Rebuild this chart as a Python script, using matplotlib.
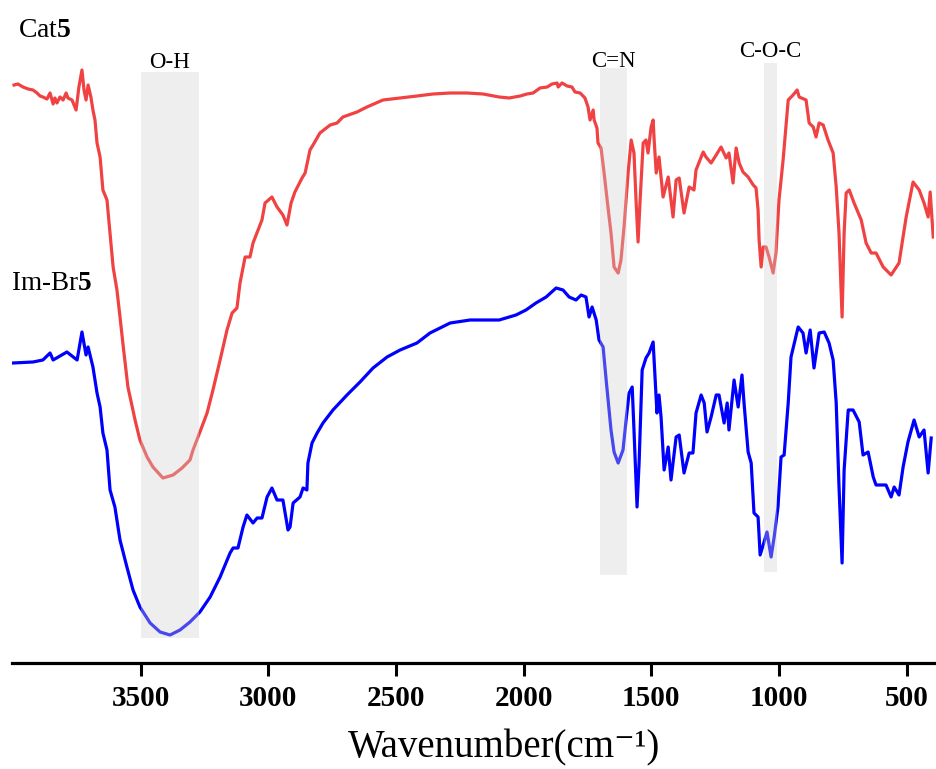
import matplotlib
matplotlib.use("Agg")
import matplotlib.pyplot as plt
import numpy as np

plt.rcParams['font.family'] = ['Liberation Serif', 'DejaVu Serif']
plt.rcParams['mathtext.fontset'] = 'custom'
plt.rcParams['mathtext.rm'] = 'Liberation Serif'
plt.rcParams['mathtext.bf'] = 'Liberation Serif:bold'
plt.rcParams['mathtext.it'] = 'Liberation Serif:italic'

# ---------------- data (wavenumber cm-1, transmittance a.u.) ----------------
cat5_wn = [3996, 3981, 3961, 3941, 3922, 3906, 3894, 3883, 3867, 3855, 3843, 3836, 3828, 3816, 3804,
           3792, 3785, 3769, 3761, 3753, 3742, 3730, 3722, 3714, 3706, 3695, 3687,
           3679, 3671, 3659, 3648, 3632, 3620, 3608, 3593, 3581, 3569, 3550, 3522, 3503, 3475, 3452,
           3413, 3373, 3338, 3307, 3295, 3268, 3240, 3217, 3189, 3162, 3142, 3123, 3111, 3091, 3072,
           3060, 3040, 3025, 3013, 2986, 2966, 2943, 2927, 2911, 2896, 2868, 2856, 2837, 2825, 2798,
           2758, 2731, 2708, 2653, 2614, 2551, 2484, 2418, 2355, 2288, 2222, 2159, 2096, 2057, 2014,
           1987, 1963, 1936, 1908, 1889, 1869, 1865, 1850, 1830, 1811, 1799, 1779, 1760, 1748, 1740,
           1728, 1724, 1713, 1709, 1697, 1685, 1670, 1658,
           1646, 1630, 1619, 1607, 1591, 1579, 1568, 1560, 1552, 1544, 1532, 1521, 1513, 1501, 1493,
           1489, 1481, 1470, 1454, 1434, 1415, 1403, 1391, 1372, 1352, 1333, 1325, 1297, 1286, 1266,
           1246, 1227, 1207, 1196, 1180, 1168, 1156, 1141, 1121, 1101, 1090, 1082, 1078, 1070, 1062,
           1051, 1039, 1023, 1012, 1000, 984, 964, 945, 929, 921, 894, 882, 866, 855, 843,
           827, 808, 788, 776, 765, 753, 745, 737, 725, 706, 678, 659, 639, 620, 592,
           561, 530, 502, 475, 451, 432, 416, 408, 396]
cat5_t = [578, 579, 576, 574, 573, 570, 567, 566, 564, 570, 559, 565, 560, 566, 563,
          570, 565, 563, 558, 553, 576, 593, 573, 563, 578, 566, 553,
          543, 520, 506, 473, 463, 430, 396, 373, 346, 318, 276, 243, 223, 206, 196,
          185, 188, 195, 203, 213, 231, 250, 273, 303, 333, 350, 355, 380, 406, 406,
          420, 433, 443, 460, 466, 456, 448, 438, 460, 471, 485, 490, 513, 518, 530,
          538, 540, 546, 551, 556, 563, 565, 567, 569, 570, 570, 569, 566, 565, 567,
          569, 570, 575, 576, 579, 580, 576, 580, 577, 576, 571, 570, 565, 556, 543,
          553, 543, 535, 520, 515, 490, 456, 430,
          396, 390, 403, 436, 490, 523, 510, 463, 421, 463, 520, 523, 510, 536, 543,
          523, 490, 506, 466, 486, 446, 483, 485, 450, 476, 473, 493, 511, 506, 500,
          508, 516, 505, 510, 480, 515, 500, 491, 486, 478, 475, 453, 423, 396, 416,
          416, 406, 390, 410, 463, 503, 563, 568, 573, 566, 563, 540, 536, 526, 540,
          538, 523, 510, 476, 430, 346, 430, 470, 473, 460, 443, 420, 410, 410, 396,
          388, 400, 446, 481, 473, 460, 446, 471, 426]

imbr5_wn = [4000, 3922, 3883, 3855, 3843, 3789, 3749, 3730, 3714, 3706, 3687, 3671, 3659, 3648, 3632,
            3620, 3601, 3581, 3554, 3530, 3503, 3463, 3424, 3385, 3346, 3307, 3268, 3228, 3189, 3150,
            3138, 3119, 3099, 3084, 3060, 3044, 3025, 3005, 2986, 2966, 2943, 2923, 2915, 2903, 2876,
            2864, 2849, 2845, 2829, 2809, 2786, 2747, 2692, 2641, 2590, 2535, 2484, 2418, 2367, 2288,
            2210, 2159, 2096, 2030, 1991, 1952, 1912, 1873, 1846, 1822, 1795, 1775, 1756, 1744, 1732,
            1716, 1705, 1689, 1677, 1658, 1646, 1630, 1611, 1599, 1587, 1575, 1568, 1556, 1548, 1536,
            1521, 1509, 1493, 1485, 1478, 1470, 1462, 1450, 1434, 1423, 1403, 1391, 1372, 1352, 1337,
            1325, 1305, 1293, 1282, 1266, 1246, 1235, 1215, 1203, 1196, 1176, 1160, 1145, 1137, 1121,
            1109, 1098, 1082, 1074, 1062, 1047, 1031, 1019, 1004, 992, 980, 964, 953, 925, 906,
            894, 878, 863, 843, 823, 804, 788, 776, 765, 753, 745, 729, 710, 686, 671,
            651, 631, 620, 581, 561, 549, 530, 514, 495, 471, 451, 432, 416, 404]
imbr5_t = [300, 301, 303, 310, 303, 311, 303, 331, 308, 316, 296, 270, 256, 230, 213,
           173, 156, 123, 96, 73, 56, 40, 31, 28, 33, 41, 51, 66, 86, 110,
           115, 115, 136, 148, 140, 145, 145, 166, 175, 163, 163, 133, 136, 160, 166,
           175, 173, 200, 220, 230, 240, 253, 268, 281, 295, 306, 313, 320, 330, 340,
           343, 343, 343, 348, 353, 360, 366, 375, 373, 366, 363, 368, 366, 346, 356,
           343, 323, 316, 283, 233, 211, 200, 213, 243, 270, 276, 233, 156, 200, 293,
           305, 310, 321, 283, 250, 268, 246, 193, 216, 183, 226, 228, 190, 210, 210,
           250, 268, 260, 231, 246, 268, 268, 240, 260, 233, 283, 256, 288, 260, 211,
           200, 150, 146, 108, 118, 131, 106, 126, 156, 206, 208, 260, 306, 336, 330,
           310, 333, 295, 330, 331, 320, 303, 260, 176, 100, 193, 253, 253, 241, 208,
           211, 186, 178, 178, 166, 176, 168, 196, 221, 243, 226, 233, 190, 225]

band_lo = [3500, 1700, 1060]
band_hi = [3270, 1595, 1009]
band_bottom = [25, 88, 91]
band_top = [591, 595, 600]
band_names = ["O-H", "C=N", "C-O-C"]
band_label_y = [595, 596, 606]

xticks = [3500, 3000, 2500, 2000, 1500, 1000, 500]

# ---------------- figure ----------------
W, H = 936, 769
fig = plt.figure(figsize=(W / 100, H / 100), dpi=100)
ax = fig.add_axes([12 / W, 1 - 663 / H, 922 / W, 663 / H])

red = '#F04242'
blue = '#0000FF'
ax.plot(cat5_wn, cat5_t, color=red, lw=2.3, zorder=2, solid_joinstyle='round')
ax.plot(imbr5_wn, imbr5_t, color=blue, lw=2.3, zorder=2, solid_joinstyle='round')

for lo, hi, b, t, name, ly in zip(band_lo, band_hi, band_bottom, band_top, band_names, band_label_y):
    ax.fill_between([lo, hi], [b, b], [t, t], color='#cfcfcf', alpha=0.35, lw=0, zorder=3)
    ax.text((lo + hi) / 2, ly, name, ha='center', va='baseline', fontsize=16.5, zorder=4)

ax.text(3980, 626, r"Cat$\mathbf{5}$", ha='left', va='baseline', fontsize=20)
ax.text(4006, 373, r"Im-Br$\mathbf{5}$", ha='left', va='baseline', fontsize=19.5)

ax.set_xlim(4004, 393)
ax.set_ylim(0, 663)
ax.set_xticks(xticks)
ax.set_xticklabels([str(x) for x in xticks], fontweight='bold', fontsize=21)
ax.set_yticks([])
for s in ['top', 'left', 'right']:
    ax.spines[s].set_visible(False)
ax.spines['bottom'].set_linewidth(2.3)
ax.tick_params(axis='x', direction='out', length=9.5, width=2.2, pad=6)
ax.patch.set_alpha(0)

fig.text(504 / W, 1 - 757 / H, "Wavenumber(cm\u207b\u00b9)", ha='center', va='baseline', fontsize=28)

fig.savefig('out.png', dpi=100)
